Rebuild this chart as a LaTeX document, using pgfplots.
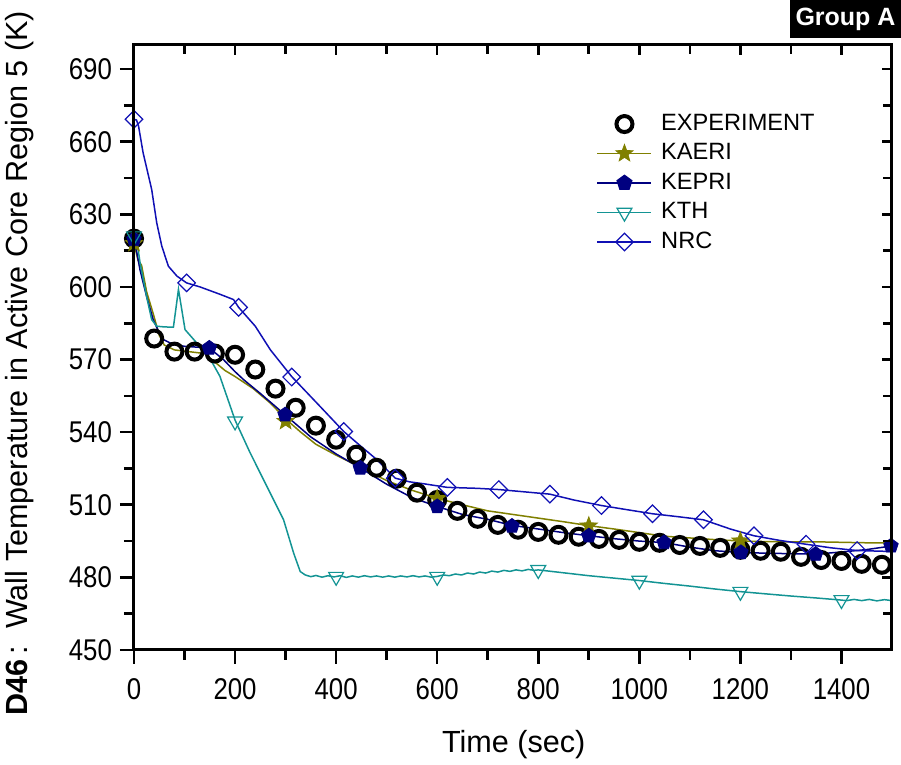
\documentclass[border=0pt]{standalone}
\usepackage{fontspec}
\setmainfont{Liberation Sans}
\newfontfamily\tickfont{Liberation Sans}[FakeStretch=0.86]
\usepackage{pgfplots}
\pgfplotsset{compat=1.18}
\usetikzlibrary{plotmarks}
\definecolor{cK}{HTML}{808000}
\definecolor{cP}{HTML}{000080}
\definecolor{cT}{HTML}{139494}
\definecolor{cN}{HTML}{1010B4}
\pgfdeclareplotmark{fstar}{%
 \pgfpathmoveto{\pgfpointpolar{90}{\pgfplotmarksize}}%
 \pgfpathlineto{\pgfpointpolar{126}{0.42\pgfplotmarksize}}%
 \pgfpathlineto{\pgfpointpolar{162}{\pgfplotmarksize}}%
 \pgfpathlineto{\pgfpointpolar{198}{0.42\pgfplotmarksize}}%
 \pgfpathlineto{\pgfpointpolar{234}{\pgfplotmarksize}}%
 \pgfpathlineto{\pgfpointpolar{270}{0.42\pgfplotmarksize}}%
 \pgfpathlineto{\pgfpointpolar{306}{\pgfplotmarksize}}%
 \pgfpathlineto{\pgfpointpolar{342}{0.42\pgfplotmarksize}}%
 \pgfpathlineto{\pgfpointpolar{18}{\pgfplotmarksize}}%
 \pgfpathlineto{\pgfpointpolar{54}{0.42\pgfplotmarksize}}%
 \pgfpathclose
 \pgfusepathqfillstroke}
\pgfplotsset{common/.style={scale only axis, width=379pt, height=302.5pt,
  xmin=0, xmax=1500, ymin=450, ymax=700,
  xtick={0,200,...,1400}, ytick={450,480,...,690},
  minor x tick num=1, minor y tick num=1,
  axis line style={line width=1.5pt},
  tick style={black, line width=1.3pt}}}
\begin{document}
\begin{tikzpicture}
\path[use as bounding box] (-67pt,-57.5pt) rectangle (383.5pt,325pt);
\begin{axis}[common, name=ax,
  xtick pos=left, ytick pos=left, tick align=outside,
  major tick length=7pt, minor tick length=5pt,
  /pgf/number format/assume math mode=true,
  /pgf/number format/1000 sep={},
  ticklabel style={font=\tickfont\fontsize{15}{17}\selectfont},
  xticklabel style={yshift=-3.5pt},
  yticklabel style={xshift=-0.5pt},
  xlabel={Time (sec)}, ylabel={\textbf{D46}\,:\ \ Wall Temperature in Active Core Region 5 (K)},
  label style={font=\fontsize{15.3}{17}\selectfont},
  xlabel style={at={(axis description cs:0.501,-0.157)}, anchor=center},
  ylabel style={at={(axis description cs:-0.151,0.474)}, anchor=center, rotate=0},
  legend image code/.code={\draw[mark repeat=2,mark phase=2,#1] plot coordinates {(0pt,0pt) (13.5pt,0pt) (27pt,0pt)};},
  legend style={at={(0.602,0.9010)}, anchor=north west, draw=none, fill=none,
    cells={anchor=west}, column sep=2.5pt, font=\fontsize{11.8}{13}\selectfont,
    nodes={inner sep=2pt, text height=8.5pt, text depth=2.25pt}},
]
% ---- lines ----
\addplot[cK, line width=0.75pt, forget plot] coordinates {
(0,618) (8,611) (15,609) (25,598) (38,589) (50,580) (60,576) (80,574) (100,573.5) (120,573) (140,572.5) (160,569) (180,565.5) (200,563) (236,558) (270,552) (300,545.5) (330,540) (360,535) (400,530.5) (448,525.5) (500,520) (550,516) (603,512.5) (650,510) (700,507.5) (750,506) (800,504.5) (850,503) (903,501.3) (950,500) (1000,498.5) (1050,497) (1100,496.3) (1150,495.6) (1204,495) (1250,494.8) (1300,494.7) (1350,494.7) (1400,494.5) (1450,494.3) (1500,494.2)};
\addplot[cP, line width=0.75pt, forget plot] coordinates {
(0,619.6) (4,616) (12,607) (25,596) (38,586.5) (50,581) (58,578.3) (78,576.2) (100,575.5) (149,574.8) (177,570) (200,565) (217,561.7) (250,556) (299,547.2) (350,538) (400,531) (448,525.2) (500,518.5) (550,513) (600,509.3) (650,506) (700,504) (748,501.5) (800,500) (850,498.5) (900,497.2) (950,496) (1000,495) (1049,494.4) (1100,492.5) (1150,491) (1201,490.3) (1250,490) (1300,489.8) (1349,489.6) (1400,490.5) (1450,491.5) (1500,493)};
\addplot[cT, line width=0.75pt, forget plot] coordinates {
(0,621) (5,620) (12,610) (25,596) (35,586.5) (45,583.8) (60,583.5) (78,583.4) (88,599) (101,582.4) (124,576.9) (144,572.8) (170,563.1) (200,545) (230,531.4) (263,517.6) (296,503.8) (316,490) (329,482.4) (339,481) (350,480.3) (360,480.8) (372,480.1) (384,480.7) (396,480.2) (408,480.7) (420,480.0) (432,480.6) (444,480.1) (456,480.7) (468,480.2) (480,480.6) (492,480.1) (504,480.6) (516,480.1) (528,480.6) (540,480.2) (552,480.7) (564,480.2) (576,480.6) (588,480.1) (600,480.4) (612,481.0) (624,480.7) (636,481.4) (648,481.0) (660,481.8) (672,481.4) (684,482.2) (696,481.8) (708,482.6) (720,482.2) (732,482.9) (744,482.5) (756,483.1) (768,482.7) (780,483.3) (792,482.9) (800,483.1) (850,481.9) (900,480.7) (950,479.7) (1000,478.7) (1050,477.5) (1100,476.4) (1150,475.2) (1201,474.1) (1250,473.2) (1300,472.3) (1350,471.5) (1396,470.7) (1410,470.4) (1425,470.9) (1440,470.4) (1455,470.9) (1470,470.3) (1485,470.8) (1500,470.4)};
\addplot[cN, line width=0.75pt, forget plot] coordinates {
(0,669.3) (5,669) (9,666.5) (18,655.5) (35,640.3) (45,626.5) (55,616.9) (68,608.6) (85,604.5) (104,601.7) (131,600) (170,597) (197,594.8) (207,591.6) (240,583.8) (270,574) (312,563) (368,550.7) (415,540.3) (450,534) (481,528.6) (517,521) (545,519.5) (573,518.7) (620,517.2) (680,516.8) (722,516.3) (770,515.4) (823,514.4) (870,512) (925,509.7) (975,508) (1026,506.3) (1080,505) (1127,503.8) (1180,500) (1227,497.2) (1280,495.2) (1330,493.7) (1380,492.2) (1431,491.1) (1500,490.7)};
% ---- experiment ----
\addplot[black, only marks, mark=o, mark size=4pt, mark options={line width=2pt}, forget plot] coordinates {
(0,620) (40,578.7) (80,573.3) (120,573.3) (160,572.5) (200,572) (240,565.9) (280,558) (320,550.1) (360,542.7) (400,536.9) (440,530.7) (480,525.3) (520,520.8) (560,515) (600,512) (640,507.5) (680,504.2) (720,501.7) (760,499.7) (800,498.8) (840,497.6) (880,496.8) (920,495.9) (960,495.5) (1000,494.7) (1040,494.3) (1080,493.4) (1120,493) (1160,492.2) (1200,491.4) (1240,491) (1280,490.6) (1320,488.5) (1360,487.2) (1400,486.8) (1440,485.6) (1480,485.2)};
% ---- markers ----
\addplot[cK, only marks, mark=fstar, mark size=4.5pt, mark options={fill=cK, line width=0.4pt}, forget plot] coordinates {
(0,618) (300,544.5) (600,512.6) (900,501.3) (1200,495.1)};
\addplot[cP, only marks, mark=pentagon*, mark size=3.8pt, mark options={fill=cP}, forget plot] coordinates {
(0,619.6) (149,574.8) (299,547.2) (448,525.2) (600,509.3) (748,501.2) (900,497.2) (1049,494.4) (1201,490.3) (1349,489.6) (1498,493)};
\addplot[cT, only marks, mark=triangle, mark size=4.3pt, mark options={rotate=180, fill=white, line width=0.6pt}, forget plot] coordinates {
(0,621) (200,544.5) (400,480.3) (600,480.3) (800,483.1) (1000,478.7) (1200,474.1) (1400,470.7)};
\addplot[cN, only marks, mark=square, mark size=3.1pt, mark options={rotate=45, fill=white, line width=0.6pt}, forget plot] coordinates {
(0,669.3) (104,601.7) (207,591.6) (312,562.8) (415,540.3) (517,521) (620,517.2) (722,516.3) (823,514.4) (925,509.7) (1026,506.3) (1127,503.8) (1227,497.2) (1330,493.7) (1431,491.1)};
% ---- legend ----
\addlegendimage{black, only marks, mark=o, mark size=4pt, mark options={line width=2pt}}
\addlegendentry{EXPERIMENT}
\addlegendimage{cK, line width=0.75pt, mark=fstar, mark size=4.5pt, mark options={fill=cK, line width=0.4pt}}
\addlegendentry{KAERI}
\addlegendimage{cP, line width=0.75pt, mark=pentagon*, mark size=3.8pt, mark options={fill=cP}}
\addlegendentry{KEPRI}
\addlegendimage{cT, line width=0.75pt, mark=triangle, mark size=4.3pt, mark options={rotate=180, fill=white, line width=0.6pt}}
\addlegendentry{KTH}
\addlegendimage{cN, line width=0.75pt, mark=square, mark size=3.1pt, mark options={rotate=45, fill=white, line width=0.6pt}}
\addlegendentry{NRC}
\end{axis}
\begin{axis}[common, xtick pos=right, ytick pos=right, tick align=inside,
  major tick length=5pt, minor tick length=4.5pt,
  xticklabels={}, yticklabels={}]
\end{axis}
\fill[black] (328pt,306pt) rectangle (383.5pt,325pt);
\node[text=white, font=\bfseries\fontsize{12.5}{14}\selectfont, anchor=center] at (355.75pt,315.5pt) {Group A};
\end{tikzpicture}
\end{document}
